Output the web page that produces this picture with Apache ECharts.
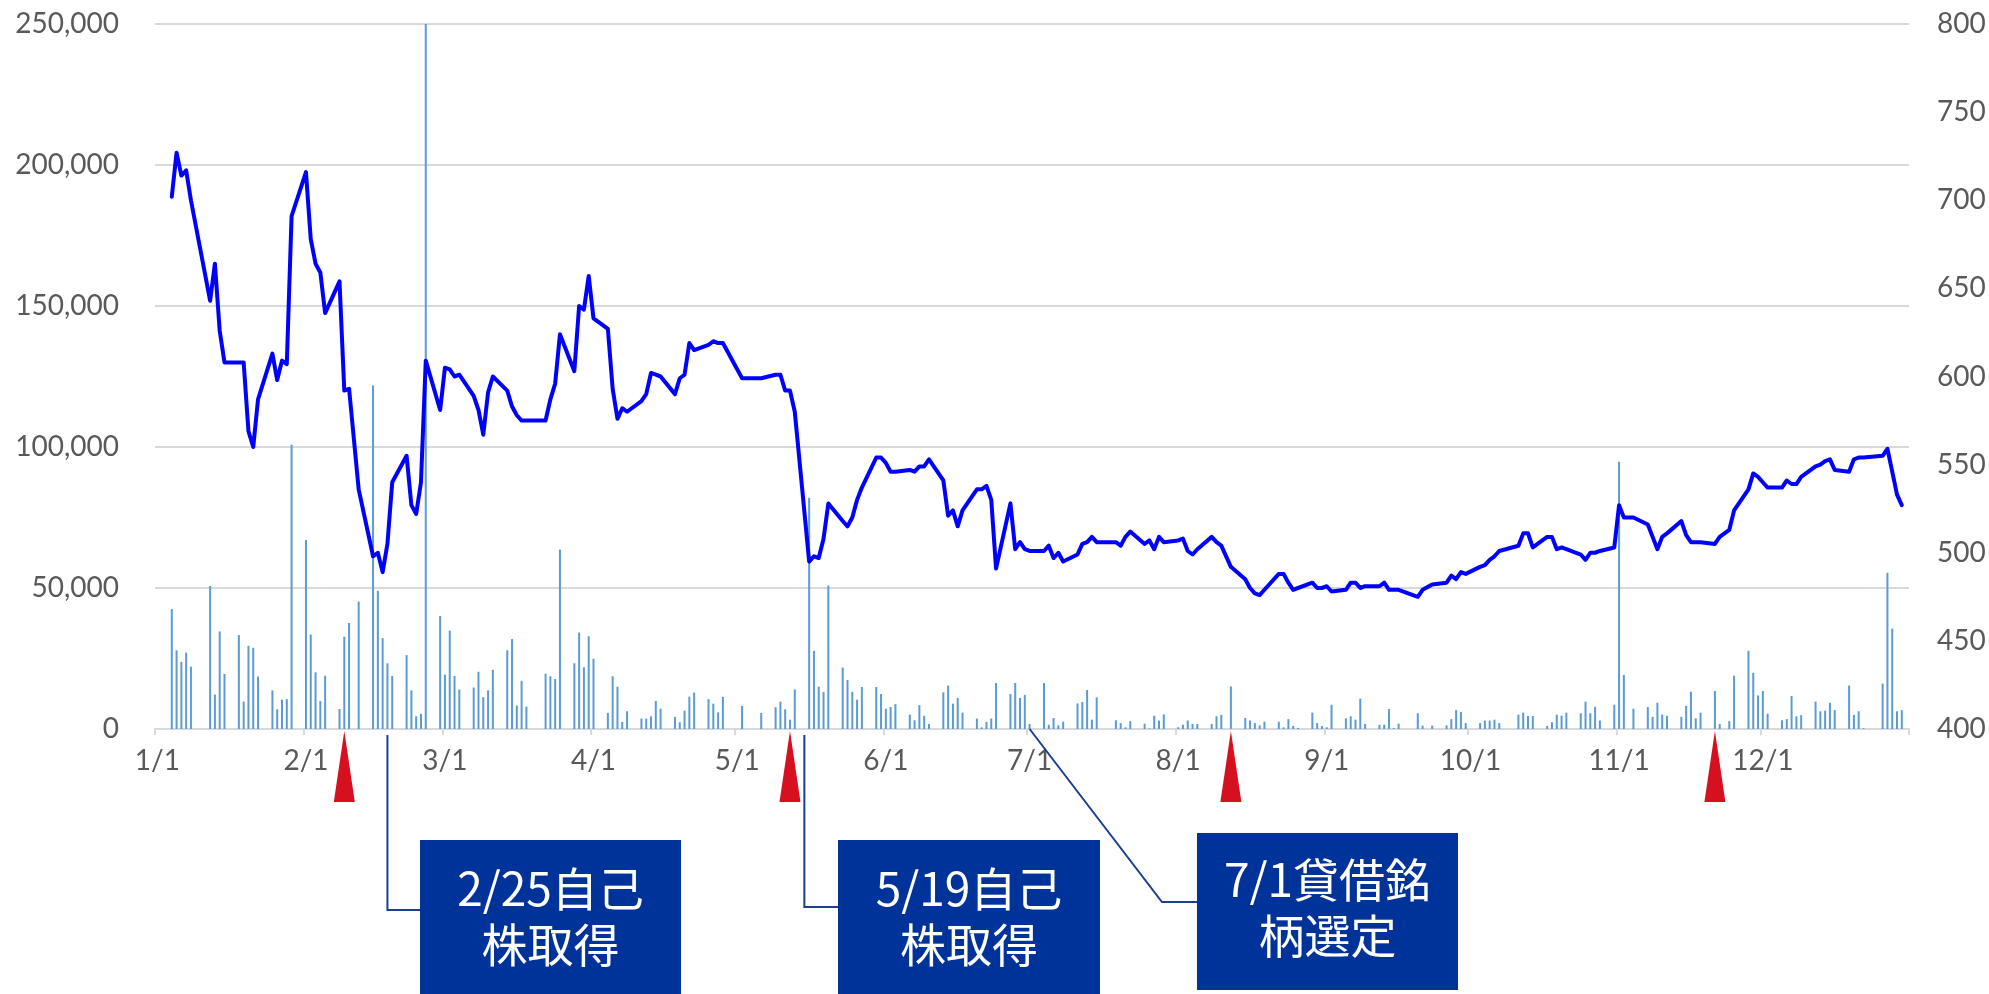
<!DOCTYPE html>
<html>
<head>
<meta charset="utf-8">
<script src="https://cdn.jsdelivr.net/npm/echarts@6/dist/echarts.min.js"></script>
<style>
html,body{margin:0;padding:0;background:#ffffff;}
#chart{width:1989px;height:994px;}
</style>
</head>
<body>
<div id="chart"></div>
<script>
// ---- DATA (2016, trading days) ----
const tradeDates = [
  '1/4','1/5','1/6','1/7','1/8','1/12','1/13','1/14','1/15','1/18','1/19','1/20','1/21','1/22','1/25','1/26','1/27','1/28','1/29',
  '2/1','2/2','2/3','2/4','2/5','2/8','2/9','2/10','2/12','2/15','2/16','2/17','2/18','2/19','2/22','2/23','2/24','2/25','2/26','2/29',
  '3/1','3/2','3/3','3/4','3/7','3/8','3/9','3/10','3/11','3/14','3/15','3/16','3/17','3/18','3/22','3/23','3/24','3/25','3/28','3/29','3/30','3/31',
  '4/1','4/4','4/5','4/6','4/7','4/8','4/11','4/12','4/13','4/14','4/15','4/18','4/19','4/20','4/21','4/22','4/25','4/26','4/27','4/28',
  '5/2','5/6','5/9','5/10','5/11','5/12','5/13','5/16','5/17','5/18','5/19','5/20','5/23','5/24','5/25','5/26','5/27','5/30','5/31',
  '6/1','6/2','6/3','6/6','6/7','6/8','6/9','6/10','6/13','6/14','6/15','6/16','6/17','6/20','6/21','6/22','6/23','6/24','6/27','6/28','6/29','6/30',
  '7/1','7/4','7/5','7/6','7/7','7/8','7/11','7/12','7/13','7/14','7/15','7/19','7/20','7/21','7/22','7/25','7/26','7/27','7/28','7/29',
  '8/1','8/2','8/3','8/4','8/5','8/8','8/9','8/10','8/12','8/15','8/16','8/17','8/18','8/19','8/22','8/23','8/24','8/25','8/26','8/29','8/30','8/31',
  '9/1','9/2','9/5','9/6','9/7','9/8','9/9','9/12','9/13','9/14','9/15','9/16','9/20','9/21','9/23','9/26','9/27','9/28','9/29','9/30',
  '10/3','10/4','10/5','10/6','10/7','10/11','10/12','10/13','10/14','10/17','10/18','10/19','10/20','10/21','10/24','10/25','10/26','10/27','10/28','10/31',
  '11/1','11/2','11/4','11/7','11/8','11/9','11/10','11/11','11/14','11/15','11/16','11/17','11/18','11/21','11/22','11/24','11/25','11/28','11/29','11/30',
  '12/1','12/2','12/5','12/6','12/7','12/8','12/9','12/12','12/13','12/14','12/15','12/16','12/19','12/20','12/21','12/22','12/26','12/27','12/28','12/29','12/30'
];

// 出来高 (left axis)
const volume = [
  42500,27900,23800,27100,22100,50700,12200,34600,19500,33300,9700,29500,28800,18600,13700,7000,10400,10600,100800,
  67000,33500,20100,9900,18900,7100,32700,37600,45200,121800,49000,32200,23300,18800,26200,13700,4500,5400,250000,40100,
  19300,34900,18800,14000,14700,20300,11300,13700,21000,27900,31900,8300,17100,7900,19600,18700,17700,63600,23300,34200,21900,32900,
  24900,5700,18700,15000,2500,6300,3700,3700,4500,9900,7200,4300,2400,6500,11500,12900,10600,9000,5900,11400,
  8200,5700,7700,9700,7000,3300,14000,82000,27700,15000,13100,50900,21800,17400,13200,10400,14900,14900,12400,
  7200,7800,8800,5100,3100,8500,4700,1800,13000,15400,9000,11000,5800,3700,600,2500,3700,16300,12400,16300,11000,12100,
  1800,16300,1500,3900,1300,2600,9100,9600,13800,3300,11200,3100,2100,600,2800,1900,200,4700,3000,5200,
  600,1500,3000,1800,1800,1800,4500,5000,15100,3900,3000,2100,1300,2600,2600,600,3500,1100,400,5800,2100,1000,
  600,8600,3800,4500,3300,10800,1800,1500,1500,7100,300,1900,5600,1200,1200,1300,3500,6700,6000,2100,
  2100,3000,3000,3300,2100,5100,5800,4600,4600,1100,2400,5100,4700,5800,5600,9700,5600,7900,3000,8600,
  94800,19200,7200,7800,4300,9300,5100,4700,4300,8200,13200,3800,5800,13500,1800,2800,18900,27700,19900,11900,
  13500,5400,3100,3500,11700,4500,4900,9700,6300,6500,9300,6700,15400,5000,6300,300,16100,55400,35600,6300,6700
];

// 終値 (right axis)
const closePrice = [
  702,727,714,717,700,643,664,626,608,608,608,569,560,587,613,598,609,607,691,
  716,678,664,659,636,654,592,593,536,498,500,489,505,540,555,527,522,540,609,581,
  605,604,600,601,589,581,567,591,600,592,583,578,575,575,575,587,596,624,603,640,638,657,
  633,627,593,576,582,580,586,590,602,601,600,590,599,601,619,615,618,620,619,619,
  599,599,601,601,592,592,580,495,498,497,508,528,518,515,520,530,537,554,554,
  551,546,546,547,546,549,549,553,541,521,524,515,524,536,536,538,530,491,528,502,506,502,
  501,501,504,497,500,495,499,505,506,509,506,506,504,509,512,505,507,502,509,506,
  507,508,501,499,502,509,506,504,492,485,480,477,476,479,488,488,483,479,480,483,480,480,
  481,478,479,483,483,480,481,481,483,479,479,479,475,479,482,483,487,485,489,488,
  492,493,496,498,501,504,511,511,503,509,509,502,503,502,499,496,500,500,501,503,
  527,520,520,516,509,502,509,511,518,510,506,506,506,505,509,513,524,536,545,543,
  540,537,537,541,539,539,543,549,550,552,553,547,546,553,554,554,555,559,546,533,527
];

const monthLabels = ['1/1','2/1','3/1','4/1','5/1','6/1','7/1','8/1','9/1','10/1','11/1','12/1'];
const leftTicks = { min: 0, max: 250000, interval: 50000 };
const rightTicks = { min: 400, max: 800, interval: 50 };

const eventMarkers = ['2/9', '5/12', '8/12', '11/21'];
const callouts = [
  { anchor: '2/18', text: '2/25自己\n株取得' },
  { anchor: '5/15', text: '5/19自己\n株取得' },
  { anchor: '7/1',  text: '7/1貸借銘\n柄選定' }
];

// ---- calendar categories (every day of 2016) ----
const monthLengths = [31,29,31,30,31,30,31,31,30,31,30,31];
const calendarDays = [];
monthLengths.forEach((n, m) => { for (let d = 1; d <= n; d++) calendarDays.push((m + 1) + '/' + d); });

const isMonthStart = (i, v) => monthLabels.indexOf(v) >= 0;

const chart = echarts.init(document.getElementById('chart'), null, { renderer: 'canvas' });

const axisFont = { fontFamily: 'Lato', fontSize: 28, color: '#595959' };

chart.setOption({
  animation: false,
  backgroundColor: '#ffffff',
  grid: { left: 155, right: 80, top: 24, bottom: 265, containLabel: false },
  xAxis: {
    type: 'category',
    data: calendarDays,
    boundaryGap: true,
    axisLine: { show: true, lineStyle: { color: '#d9d9d9', width: 2 } },
    axisTick: { show: true, interval: isMonthStart, length: 6, lineStyle: { color: '#d9d9d9', width: 2 } },
    axisLabel: Object.assign({ interval: isMonthStart, margin: 18 }, axisFont),
    splitLine: { show: false }
  },
  yAxis: [
    {
      type: 'value',
      min: leftTicks.min, max: leftTicks.max, interval: leftTicks.interval,
      axisLine: { show: false }, axisTick: { show: false },
      axisLabel: Object.assign({ margin: 36, formatter: v => v.toLocaleString('en-US') }, axisFont),
      splitLine: { show: true, lineStyle: { color: '#d9d9d9', width: 2 } }
    },
    {
      type: 'value',
      min: rightTicks.min, max: rightTicks.max, interval: rightTicks.interval,
      position: 'right',
      axisLine: { show: false }, axisTick: { show: false },
      axisLabel: Object.assign({ margin: 28 }, axisFont),
      splitLine: { show: false }
    }
  ],
  series: [
    {
      name: '出来高',
      type: 'bar',
      yAxisIndex: 0,
      barWidth: 2,
      clip: true,
      itemStyle: { color: '#5B9BD5' },
      data: tradeDates.map((d, i) => [d, volume[i]]),
      z: 2
    },
    {
      name: '株価',
      type: 'line',
      yAxisIndex: 1,
      showSymbol: false,
      symbol: 'none',
      lineStyle: { color: '#0000FF', width: 4, join: 'round', cap: 'round' },
      data: tradeDates.map((d, i) => [d, closePrice[i]]),
      z: 3
    }
  ]
});

// ---- annotations ----
const axisY = chart.convertToPixel({ yAxisIndex: 0 }, 0);
const xOf = d => chart.convertToPixel({ xAxisIndex: 0 }, calendarDays.indexOf(d));

const boxes = [
  { x: 420, y: 840, w: 261, h: 170, textY: 917, elbowY: 910 },
  { x: 838, y: 840, w: 262, h: 170, textY: 917, elbowY: 907 },
  { x: 1197, y: 833, w: 261, h: 157, textY: 908, elbowY: 902 }
];

const graphics = [];
eventMarkers.forEach(d => {
  const x = xOf(d);
  graphics.push({
    type: 'polygon',
    shape: { points: [[x, axisY + 2], [x - 10.5, 802], [x + 10.5, 802]] },
    style: { fill: '#D6101E' },
    z: 10
  });
});

callouts.forEach((c, i) => {
  const b = boxes[i];
  const ax = xOf(c.anchor);
  let pts;
  if (i === 2) {
    pts = [[ax, axisY], [1162, b.elbowY], [b.x, b.elbowY]];
  } else {
    pts = [[ax, axisY + 6], [ax, b.elbowY], [b.x, b.elbowY]];
  }
  graphics.push({
    type: 'polyline',
    shape: { points: pts },
    style: { stroke: '#1B3F8F', lineWidth: 2, fill: null },
    z: 10
  });
  graphics.push({
    type: 'rect',
    shape: { x: b.x, y: b.y, width: b.w, height: b.h },
    style: { fill: '#003399' },
    z: 10
  });
  graphics.push({
    type: 'text',
    x: b.x + b.w / 2,
    y: b.textY,
    style: {
      text: c.text,
      fill: '#ffffff',
      font: '46px "Noto Sans CJK JP"',
      align: 'center',
      verticalAlign: 'middle',
      lineHeight: 56
    },
    z: 11
  });
});

chart.setOption({ graphic: graphics });
</script>
</body>
</html>
